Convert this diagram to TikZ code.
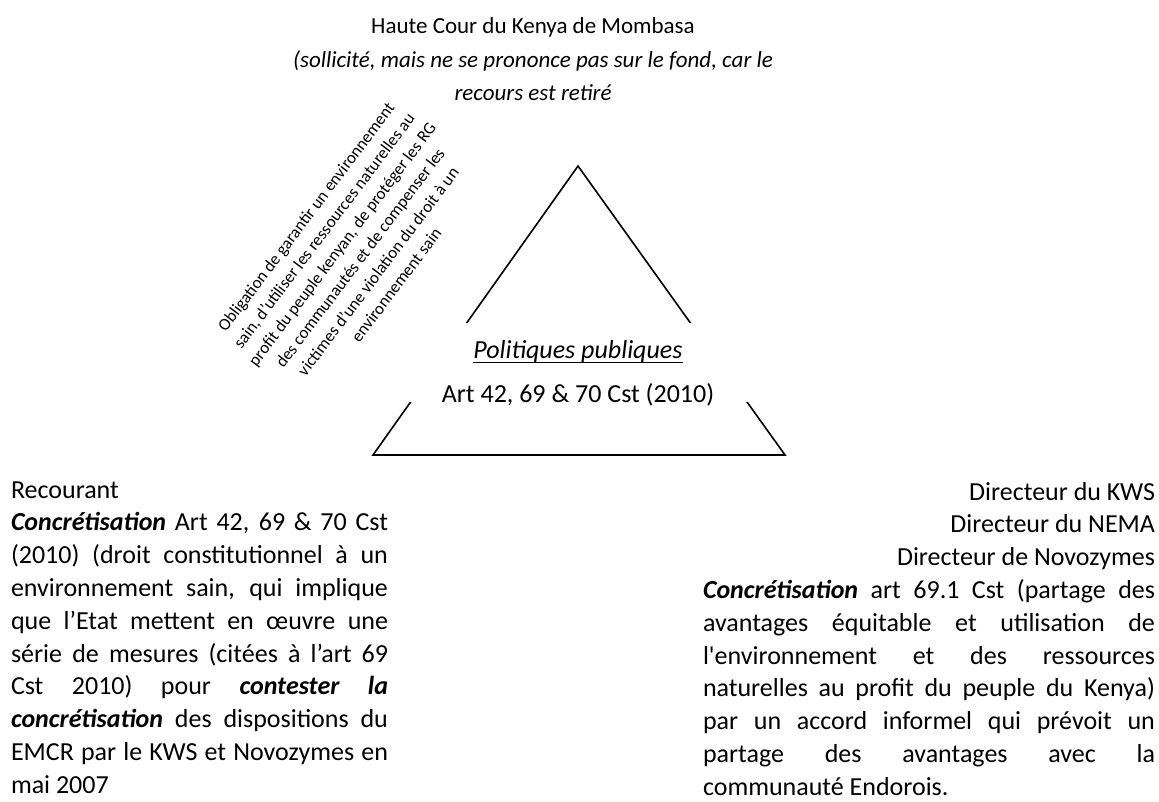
\documentclass[tikz,border=0pt]{standalone}
\usepackage{fontspec}
\setmainfont{Carlito}[Ligatures=TeXOff]
\newcommand\ulinetext[1]{\setbox0\hbox{#1}\rlap{\rule[-5pt]{\wd0}{1.1pt}}\box0}
\newcommand\bi[1]{\textbf{\textit{#1}}}
\begin{document}
\begin{tikzpicture}[x=1pt,y=-1pt,
  txt/.style={inner sep=0pt,outer sep=0pt,anchor=base west},
  tri/.style={line width=1.6pt,line join=miter}]
\useasboundingbox (0,0) rectangle (1159,802);

% triangle
\coordinate (apex) at (578,166);
\coordinate (bl) at (373,455);
\coordinate (br) at (785,455);
\draw[tri] (apex) -- (bl) -- (br) -- cycle;

% white band carrying the central label
\node[fill=white,inner sep=0pt,minimum width=357pt,minimum height=79pt] (band) at (578.5,362.5) {};
\node[inner sep=0pt,anchor=base] (pol) at (578,358)
  {\fontsize{26}{30}\selectfont\ulinetext{\textit{Politiques publiques}}};
\node[inner sep=0pt,anchor=base] (art) at (578,402)
  {\fontsize{26}{30}\selectfont Art 42, 69 \& 70 Cst (2010)};

% court
\node[inner sep=0pt,anchor=base] (court) at (533,34) {\vtop{\hsize=560pt\centering
  \fontsize{23}{33.3}\selectfont
  Haute Cour du Kenya de Mombasa\\
  \textit{(sollicité, mais ne se prononce pas sur le fond, car le}\\
  \textit{recours est retiré}\par}};

% obligations, slanted along the left side
\node[inner sep=0pt,rotate=53] (oblig) at (351,251) {\vtop{\hsize=340pt\centering
  \fontsize{17}{22.6}\selectfont
  Obligation de garantir un environnement\\
  sain, d’utiliser les ressources naturelles au\\
  profit du peuple kenyan, de protéger les RG\\
  des communautés et de compenser les\\
  victimes d’une violation du droit à un\\
  environnement sain\par}};

% claimant
\node[txt] (claimant) at (11,498) {\vtop{\hsize=377pt
  \fontsize{26}{32.8}\selectfont\parindent0pt\tolerance10000\hyphenpenalty10000
  Recourant\par
  \bi{Concrétisation} Art 42, 69 \& 70 Cst\linebreak
  (2010) (droit constitutionnel à un\linebreak
  environnement sain, qui implique\linebreak
  que l’Etat mettent en œuvre une\linebreak
  série de mesures (citées à l’art 69\linebreak
  Cst 2010) pour \bi{contester la}\linebreak
  \bi{concrétisation} des dispositions du\linebreak
  EMCR par le KWS et Novozymes en\linebreak
  mai 2007\par}};

% respondents
\node[txt] (respondents) at (703,500) {\vtop{\hsize=452pt
  \fontsize{26}{32.8}\selectfont\parindent0pt\tolerance10000\hyphenpenalty10000
  {\raggedleft Directeur du KWS\\ Directeur du NEMA\\ Directeur de Novozymes\par}
  \bi{Concrétisation} art 69.1 Cst (partage des\linebreak
  avantages équitable et utilisation de\linebreak
  l'environnement et des ressources\linebreak
  naturelles au profit du peuple du Kenya)\linebreak
  par un accord informel qui prévoit un\linebreak
  partage des avantages avec la\linebreak
  communauté Endorois.\par}};
\end{tikzpicture}
\end{document}
